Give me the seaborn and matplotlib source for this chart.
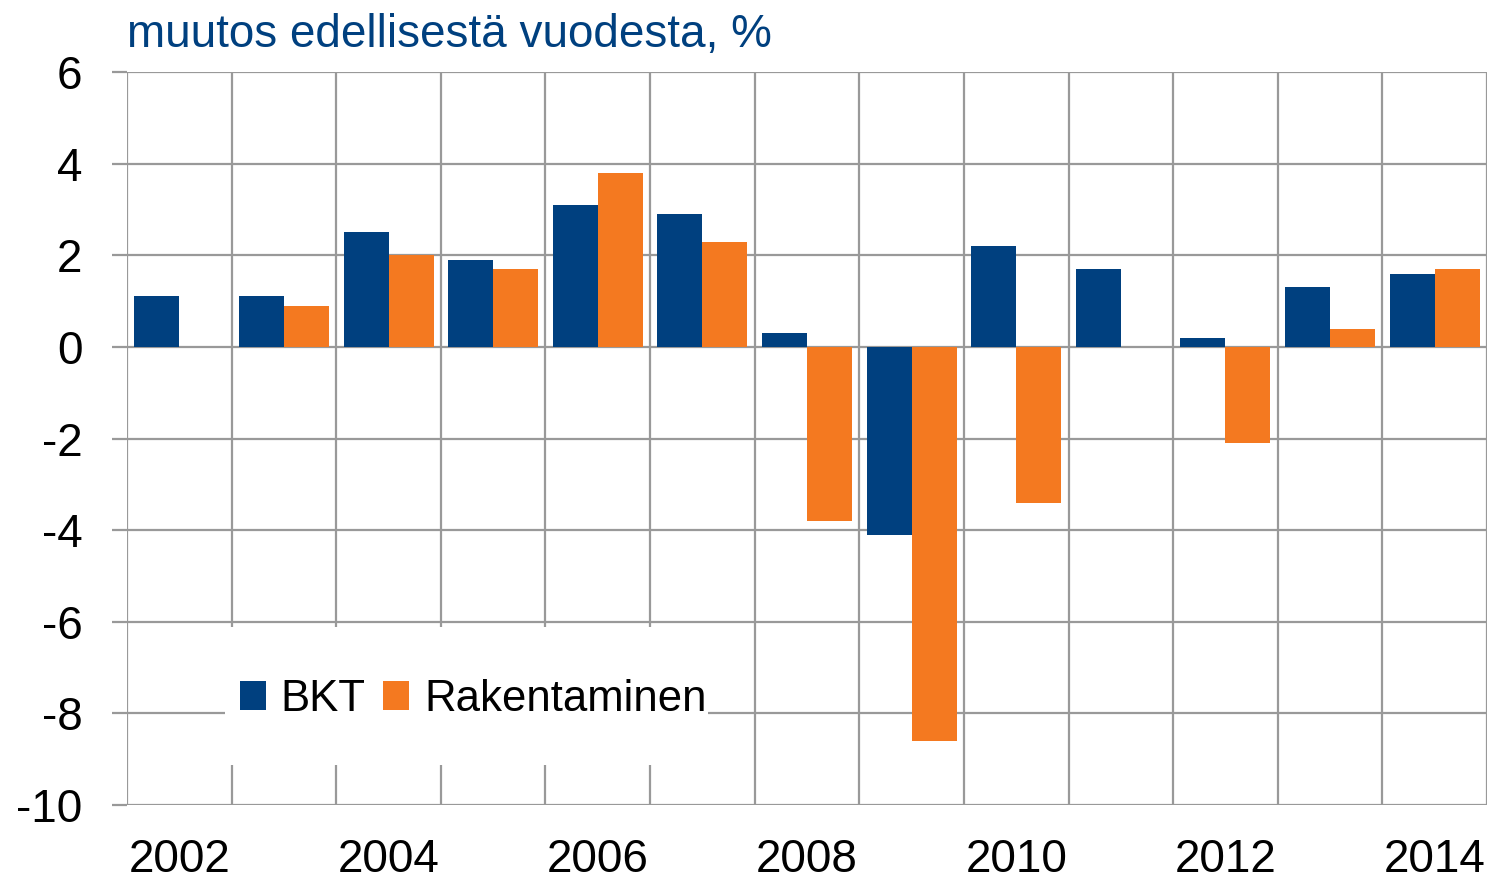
import matplotlib
matplotlib.use("Agg")
import matplotlib.pyplot as plt
import matplotlib.patches as mpatches
from matplotlib.ticker import FixedLocator
import seaborn as sns
import pandas as pd
import numpy as np

years = list(range(2002, 2015))
bkt = [1.1, 1.1, 2.5, 1.9, 3.1, 2.9, 0.3, -4.1, 2.2, 1.7, 0.2, 1.3, 1.6]
rakentaminen = [0.0, 0.9, 2.0, 1.7, 3.8, 2.3, -3.8, -8.6, -3.4, 0.0, -2.1, 0.4, 1.7]
series_names = ["BKT", "Rakentaminen"]
colors = ["#00407F", "#F47920"]
yticks = [-10, -8, -6, -4, -2, 0, 2, 4, 6]
xtick_years = [2002, 2004, 2006, 2008, 2010, 2012, 2014]
title = "muutos edellisestä vuodesta, %"

df = pd.DataFrame({
    "year": years * 2,
    "value": bkt + rakentaminen,
    "series": [series_names[0]] * len(years) + [series_names[1]] * len(years),
})

sns.set_theme(style="white")
plt.rcParams["font.family"] = ["Liberation Sans", "DejaVu Sans"]

fig = plt.figure(figsize=(14.95, 8.86), dpi=100)
ax = fig.add_axes([127 / 1495, 81 / 886, 1360 / 1495, 733 / 886])

sns.barplot(data=df, x="year", y="value", hue="series", palette=colors,
            saturation=1, width=0.86, linewidth=0, ax=ax, zorder=2, legend=False)

ax.set_xlim(-0.5, len(years) - 0.5)
ax.set_ylim(-10, 6)
ax.set_xlabel("")
ax.set_ylabel("")
for s in ax.spines.values():
    s.set_visible(False)

grid_col = "#999999"
ax.set_axisbelow(True)
ax.yaxis.set_major_locator(FixedLocator(yticks))
ax.set_yticklabels([str(t) for t in yticks])
ax.grid(axis="y", which="major", color=grid_col, linewidth=1.6, zorder=0.5)
ax.xaxis.set_minor_locator(FixedLocator(np.arange(-0.5, len(years), 1.0)))
ax.grid(axis="x", which="minor", color=grid_col, linewidth=1.6, zorder=0.5)
ax.grid(axis="x", which="major", visible=False)

xt_pos = [years.index(y) for y in xtick_years]
ax.set_xticks(xt_pos)
ax.set_xticklabels([str(y) for y in xtick_years])
ax.tick_params(axis="x", which="both", length=0, pad=24, labelsize=33, colors="black")
ax.tick_params(axis="y", which="major", length=11, width=1.6, color=grid_col,
               pad=21, labelsize=33, labelcolor="black", left=True)

# white background area of the legend
ax.add_patch(mpatches.Rectangle((98 / 1360, 40 / 733), 483 / 1360, 138 / 733,
                                transform=ax.transAxes, facecolor="white",
                                edgecolor="none", zorder=1))
handles = [mpatches.Patch(facecolor=c, edgecolor="none", label=n)
           for c, n in zip(colors, series_names)]
ax.legend(handles=handles, loc="center left", bbox_to_anchor=(113 / 1360, 0.144),
          ncol=2, frameon=False, fontsize=31.5, labelcolor="black",
          handlelength=0.6, handleheight=0.66,
          handletextpad=0.33, columnspacing=0.4, borderpad=0, borderaxespad=0)

fig.text(127 / 1495, (886 - 47) / 886, title, color="#00407F", fontsize=33,
         ha="left", va="baseline")

fig.savefig("out.png", dpi=100, facecolor="white")
